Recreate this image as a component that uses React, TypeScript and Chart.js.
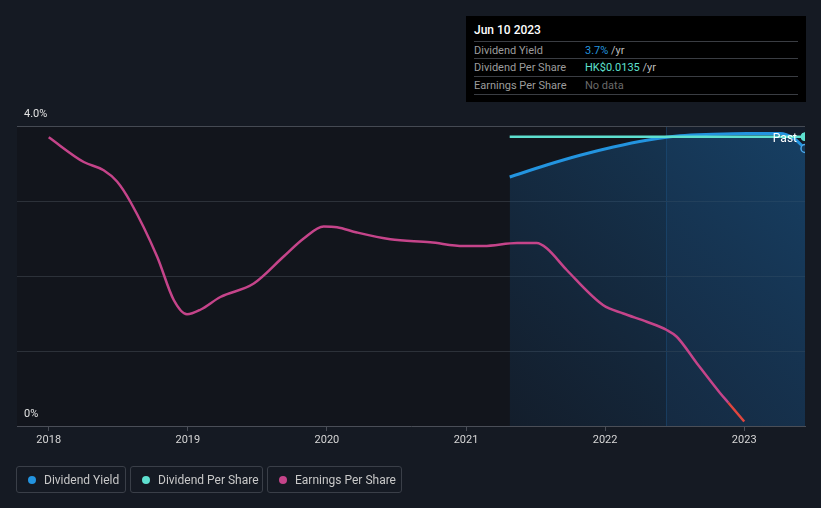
import React, { useEffect, useRef } from "react";
import { Chart, registerables } from "chart.js";
Chart.register(...registerables);

// ---- data ----
const yearTicks = [2018, 2019, 2020, 2021, 2022, 2023];
const yieldTicks = [0, 1, 2, 3, 4];
const xMin = 2017.772;
const xMax = 2023.437;
const highlightStart = 2022.44;

const yieldX = [2021.314, 2021.58, 2021.82, 2022.059, 2022.299, 2022.538, 2022.778, 2023.018, 2023.257, 2023.353, 2023.437];
const yieldValues = [3.32, 3.48, 3.61, 3.72, 3.81, 3.87, 3.89, 3.9, 3.9, 3.84, 3.7];

const dpsX = [2021.314, 2022.0, 2022.7, 2023.437];
const dpsValues = [0.0135, 0.0135, 0.0135, 0.0135];

const epsX = [2018.0, 2018.252, 2018.395, 2018.491, 2018.587, 2018.779, 2018.899, 2018.994, 2019.09, 2019.234, 2019.474, 2019.689, 2019.833, 2019.977, 2020.073, 2020.216, 2020.456, 2020.743, 2020.983, 2021.127, 2021.367, 2021.508, 2021.58, 2021.724, 2021.987, 2022.131, 2022.299, 2022.443, 2022.515, 2022.658, 2022.826, 2022.886, 2023.0];
const epsValues = [3.85, 3.52, 3.41, 3.26, 2.99, 2.26, 1.68, 1.49, 1.55, 1.72, 1.9, 2.26, 2.5, 2.66, 2.65, 2.58, 2.49, 2.45, 2.4, 2.4, 2.44, 2.44, 2.37, 2.08, 1.61, 1.5, 1.39, 1.28, 1.19, 0.84, 0.44, 0.31, 0.06];

const legendItems = [
  { label: "Dividend Yield", color: "#2394df", width: 110 },
  { label: "Dividend Per Share", color: "#5ee0cf", width: 133 },
  { label: "Earnings Per Share", color: "#c5448a", width: 135 },
];

const BLUE = "#2394df";
const TEAL = "#5ee0cf";
const PINK = "#c5448a";
const RED = "#e0463e";
const FONT = "Roboto, 'Open Sans', sans-serif";

export default function App() {
  const ref = useRef<HTMLCanvasElement>(null);

  useEffect(() => {
    document.body.style.margin = "0";
    const canvas = ref.current!;

    const bgPlugin = {
      id: "bgPlugin",
      beforeDraw(chart: any) {
        const { ctx, chartArea: a, scales } = chart;
        ctx.save();
        ctx.fillStyle = "#12151c";
        ctx.fillRect(a.left, a.top, a.right - a.left, a.bottom - a.top);
        const hx = scales.x.getPixelForValue(highlightStart);
        ctx.fillStyle = "rgba(35,110,175,0.10)";
        ctx.fillRect(hx, a.top, a.right - hx, a.bottom - a.top);
        ctx.fillStyle = "rgba(40,110,170,0.35)";
        ctx.fillRect(Math.round(hx), a.top, 1, a.bottom - a.top);
        yieldTicks.forEach((v) => {
          if (v === 0) return;
          const y = Math.round(scales.y.getPixelForValue(v)) + 0.5;
          ctx.strokeStyle = v === 4 ? "#454a53" : "#2c3139";
          ctx.lineWidth = 1;
          ctx.beginPath();
          ctx.moveTo(a.left, y);
          ctx.lineTo(a.right, y);
          ctx.stroke();
        });
        ctx.restore();
      },
      afterDatasetsDraw(chart: any) {
        const { ctx, chartArea: a, scales } = chart;
        ctx.save();
        ctx.font = `11px ${FONT}`;
        ctx.fillStyle = "#e2e2e2";
        ctx.textBaseline = "middle";
        ctx.textAlign = "left";
        ctx.fillText("4.0%", 24, scales.y.getPixelForValue(4) - 12);
        ctx.fillText("0%", 24, scales.y.getPixelForValue(0) - 12);
        ctx.font = `12px ${FONT}`;
        ctx.fillStyle = "#ffffff";
        ctx.textAlign = "right";
        ctx.fillText("Past", a.right - 8, scales.y2.getPixelForValue(dpsValues[dpsValues.length - 1]) + 2);
        ctx.restore();
      },
    };

    const lastY = yieldX.length - 1;
    const lastD = dpsX.length - 1;
    const lastE = epsX.length - 1;

    const chart = new Chart(canvas, {
      type: "line",
      data: {
        datasets: [
          {
            label: "Earnings Per Share",
            data: epsX.map((x, i) => ({ x, y: epsValues[i] })),
            yAxisID: "y3",
            borderColor: PINK,
            borderWidth: 2.5,
            pointRadius: 0,
            cubicInterpolationMode: "monotone",
            fill: false,
            order: 1,
            segment: {
              borderColor: (c: any) => (c.p0DataIndex >= lastE - 1 ? RED : undefined),
            },
          } as any,
          {
            label: "Dividend Per Share",
            data: dpsX.map((x, i) => ({ x, y: dpsValues[i] })),
            yAxisID: "y2",
            borderColor: TEAL,
            borderWidth: 2.5,
            pointRadius: (c: any) => (c.dataIndex === lastD ? 4 : 0),
            pointBackgroundColor: TEAL,
            pointBorderColor: TEAL,
            pointBorderWidth: 1,
            fill: false,
            order: 2,
          } as any,
          {
            label: "Dividend Yield",
            data: yieldX.map((x, i) => ({ x, y: yieldValues[i] })),
            yAxisID: "y",
            borderColor: BLUE,
            borderWidth: 3,
            pointRadius: (c: any) => (c.dataIndex === lastY ? 4 : 0),
            pointBackgroundColor: "#173a5a",
            pointBorderColor: "#4aa8ec",
            pointBorderWidth: 1.5,
            cubicInterpolationMode: "monotone",
            fill: { target: "origin" },
            backgroundColor: (c: any) => {
              const ch = c.chart;
              const a = ch.chartArea;
              if (!a) return "rgba(0,0,0,0)";
              const x0 = ch.scales.x.getPixelForValue(yieldX[0]);
              const g = ch.ctx.createLinearGradient(x0, a.bottom, a.right, a.top);
              g.addColorStop(0, "rgba(24,70,115,0.18)");
              g.addColorStop(1, "rgba(24,85,135,0.62)");
              return g;
            },
            order: 3,
          } as any,
        ],
      },
      options: {
        responsive: false,
        animation: false,
        devicePixelRatio: 1,
        layout: { padding: { left: 17, right: 16, top: 126, bottom: 58 } },
        plugins: {
          legend: { display: false },
          tooltip: { enabled: false },
        },
        scales: {
          x: {
            type: "linear",
            min: xMin,
            max: xMax,
            afterBuildTicks: (s: any) => {
              s.ticks = yearTicks.map((v) => ({ value: v }));
            },
            afterFit: (s: any) => {
              s.height = 24;
            },
            grid: { drawOnChartArea: false, drawTicks: true, tickLength: 5, color: "#4a4e57" },
            border: { display: true, color: "#4a4e57", width: 1 },
            ticks: {
              color: "#d6d6d6",
              font: { family: FONT, size: 11 },
              padding: 3,
              maxRotation: 0,
              callback: (v: any) => String(v),
            },
          },
          y: { display: false, min: 0, max: 4 },
          y2: { display: false, min: 0, max: 0.014 },
          y3: { display: false, min: 0, max: 4 },
        },
      } as any,
      plugins: [bgPlugin],
    });
    return () => chart.destroy();
  }, []);

  const rowStyle: React.CSSProperties = {
    position: "absolute",
    left: 8,
    right: 8,
    height: 17,
    display: "flex",
    alignItems: "center",
    fontSize: 11,
    borderTop: "1px solid #3a3d43",
  };

  return (
    <div style={{ position: "relative", width: 821, height: 508, background: "#151a23", overflow: "hidden", fontFamily: FONT }}>
      <canvas ref={ref} width={821} height={508} style={{ position: "absolute", left: 0, top: 0, width: 821, height: 508 }} />
      <div style={{ position: "absolute", left: 466, top: 16, width: 340, height: 86, background: "#000000" }}>
        <div style={{ position: "absolute", left: 8, top: 7, fontSize: 12, color: "#ffffff", fontWeight: 500 }}>Jun 10 2023</div>
        <div style={{ ...rowStyle, top: 25 }}>
          <span style={{ width: 111, color: "#9c9c9c" }}>Dividend Yield</span>
          <span style={{ color: BLUE }}>3.7%</span>
          <span style={{ color: "#bdbdbd" }}>&nbsp;/yr</span>
        </div>
        <div style={{ ...rowStyle, top: 42 }}>
          <span style={{ width: 111, color: "#9c9c9c" }}>Dividend Per Share</span>
          <span style={{ color: TEAL }}>HK$0.0135</span>
          <span style={{ color: "#bdbdbd" }}>&nbsp;/yr</span>
        </div>
        <div style={{ ...rowStyle, top: 60, borderBottom: "1px solid #3a3d43" }}>
          <span style={{ width: 111, color: "#9c9c9c" }}>Earnings Per Share</span>
          <span style={{ color: "#6a6a6a" }}>No data</span>
        </div>
      </div>
      <div style={{ position: "absolute", left: 16, top: 466, display: "flex", gap: 4 }}>
        {legendItems.map((it) => (
          <div
            key={it.label}
            style={{
              width: it.width,
              height: 27,
              boxSizing: "border-box",
              border: "1px solid #3a3f48",
              borderRadius: 3,
              display: "flex",
              alignItems: "center",
              paddingLeft: 11,
              fontSize: 12,
              color: "#c8c8c8",
            }}
          >
            <span style={{ width: 8, height: 8, borderRadius: 4, background: it.color, marginRight: 8, display: "inline-block" }} />
            {it.label}
          </div>
        ))}
      </div>
    </div>
  );
}
